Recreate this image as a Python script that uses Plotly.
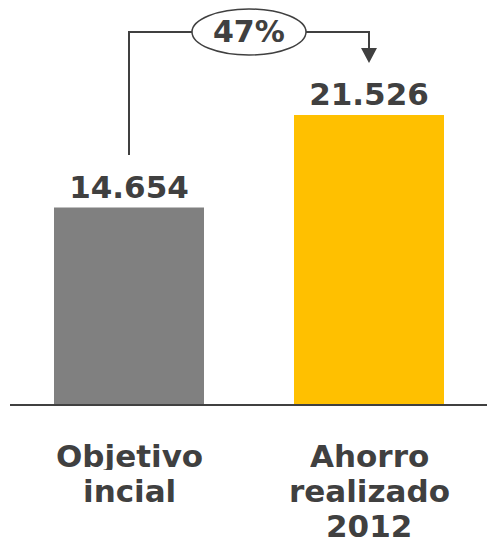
import plotly.graph_objects as go

# Data
categories = ["Objetivo<br>incial", "Ahorro<br>realizado<br>2012"]
values = [14654, 21526]
bar_colors = ["#808080", "#FFC000"]

W, H = 487, 543
TEXT = "#404040"
FONT = "DejaVu Sans"

# pixel layout of the plotting frame
x0_px, step_px = 129, 240          # centre of first bar, distance between bars
base_px = 405                       # y pixel of the zero line
px_per_unit = 290 / max(values)     # vertical scale

x_range = [-x0_px / step_px, (W - x0_px) / step_px]
y_range = [-(H - base_px) / px_per_unit, base_px / px_per_unit]


def px(x):
    return x / W


def py(y):
    return 1 - y / H


def bar_px(i):
    return x0_px + step_px * i


fig = go.Figure(
    go.Bar(
        x=list(range(len(values))),
        y=values,
        marker=dict(color=bar_colors, line=dict(width=0)),
        width=150 / step_px,
        texttemplate="<b>%{y:,}</b>",
        textposition="outside",
        textfont=dict(family=FONT, size=31, color=TEXT),
        cliponaxis=False,
        hoverinfo="skip",
    )
)

shapes = []
line = dict(color=TEXT, width=2)

# zero line
shapes.append(dict(type="line", xref="paper", yref="y", x0=px(10), x1=1, y0=0, y1=0, line=line))

# connector between the two bars with growth bubble
left_x, right_x = bar_px(0), bar_px(1)
mid_x = (left_x + right_x) / 2
top_y = 32
ell_rx, ell_ry = 57, 23
shapes += [
    dict(type="line", xref="paper", yref="paper", x0=px(left_x), x1=px(left_x), y0=py(155), y1=py(top_y), line=line),
    dict(type="line", xref="paper", yref="paper", x0=px(left_x - 1), x1=px(mid_x - ell_rx), y0=py(top_y), y1=py(top_y), line=line),
    dict(type="line", xref="paper", yref="paper", x0=px(mid_x + ell_rx), x1=px(right_x + 1), y0=py(top_y), y1=py(top_y), line=line),
    dict(type="line", xref="paper", yref="paper", x0=px(right_x), x1=px(right_x), y0=py(top_y), y1=py(49), line=line),
    dict(type="path", xref="paper", yref="paper",
         path=f"M {px(right_x - 8)} {py(48)} L {px(right_x + 8)} {py(48)} L {px(right_x)} {py(63)} Z",
         fillcolor=TEXT, line=dict(width=0)),
    dict(type="circle", xref="paper", yref="paper",
         x0=px(mid_x - ell_rx), x1=px(mid_x + ell_rx), y0=py(top_y + ell_ry), y1=py(top_y - ell_ry),
         fillcolor="white", line=dict(color=TEXT, width=1.5)),
]

growth = round((values[1] / values[0] - 1) * 100)
annotations = [
    dict(text=f"<b>{growth}%</b>", xref="paper", yref="paper", x=px(mid_x), y=py(top_y),
         xanchor="center", yanchor="middle", showarrow=False,
         font=dict(family=FONT, size=30, color=TEXT)),
]

# category labels, one annotation per line
first_baseline, line_pitch = 466.5, 35.3
for i, cat in enumerate(categories):
    for j, part in enumerate(cat.split("<br>")):
        baseline = first_baseline + j * line_pitch
        annotations.append(dict(
            text=f"<b>{part}</b>", xref="paper", yref="paper",
            x=px(bar_px(i)), y=py(baseline - 10.7),
            xanchor="center", yanchor="middle", valign="middle",
            height=28, showarrow=False,
            font=dict(family=FONT, size=31, color=TEXT),
        ))

fig.update_layout(
    width=W, height=H,
    margin=dict(l=0, r=0, t=0, b=0),
    paper_bgcolor="white", plot_bgcolor="white",
    separators=",.",
    showlegend=False,
    xaxis=dict(range=x_range, visible=False, fixedrange=True),
    yaxis=dict(range=y_range, visible=False, fixedrange=True),
    shapes=shapes,
    annotations=annotations,
)

fig.write_html("out.html")
